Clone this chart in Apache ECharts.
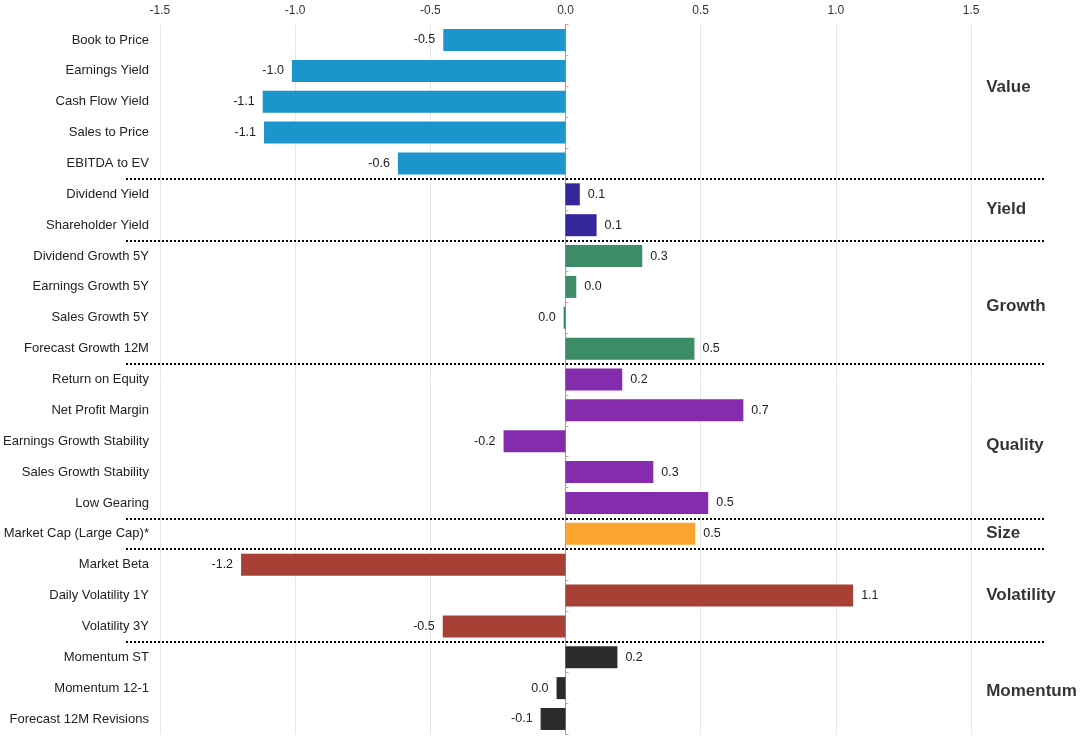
<!DOCTYPE html>
<html>
<head>
<meta charset="utf-8">
<script src="https://cdn.jsdelivr.net/npm/echarts@6/dist/echarts.min.js"></script>
<style>
  html, body { margin: 0; padding: 0; background: #fff; }
  #chart { width: 1080px; height: 737px; }
</style>
</head>
<body>
<div id="chart"></div>
<script>
// factor names, top to bottom
var categories = [
  'Book to Price', 'Earnings Yield', 'Cash Flow Yield', 'Sales to Price', 'EBITDA to EV',
  'Dividend Yield', 'Shareholder Yield',
  'Dividend Growth 5Y', 'Earnings Growth 5Y', 'Sales Growth 5Y', 'Forecast Growth 12M',
  'Return on Equity', 'Net Profit Margin', 'Earnings Growth Stability', 'Sales Growth Stability', 'Low Gearing',
  'Market Cap (Large Cap)*',
  'Market Beta', 'Daily Volatility 1Y', 'Volatility 3Y',
  'Momentum ST', 'Momentum 12-1', 'Forecast 12M Revisions'
];
var values = [
  -0.452, -1.012, -1.12, -1.115, -0.62,
  0.053, 0.115,
  0.284, 0.04, -0.007, 0.477,
  0.21, 0.658, -0.229, 0.325, 0.528,
  0.48,
  -1.2, 1.064, -0.454,
  0.192, -0.033, -0.092
];
var groupNames = ['Value', 'Yield', 'Growth', 'Quality', 'Size', 'Volatility', 'Momentum'];
var groupSizes = [5, 2, 4, 5, 1, 3, 3];
var groupColors = ['#1b95cc', '#33259a', '#3d8c68', '#852bae', '#fba52e', '#a84135', '#2b2b2b'];
var xTicks = [-1.5, -1.0, -0.5, 0.0, 0.5, 1.0, 1.5];

// small tweaks for where the group titles sit (px)
var groupLabelNudge = { Value: -14, Growth: 4, Quality: 4, Momentum: 3 };

var font = 'Liberation Sans, Arial, sans-serif';

// work out each bar's colour, group centres and separator rows
var barColors = [];
var groupCenters = [];
var separators = [];
var start = 0;
groupSizes.forEach(function (n, gi) {
  for (var i = 0; i < n; i++) barColors.push(groupColors[gi]);
  groupCenters.push(start + (n - 1) / 2);
  start += n;
  if (gi < groupSizes.length - 1) separators.push(start - 0.5);
});

function fmt(v) {
  return Math.abs(v) < 0.05 ? '0.0' : v.toFixed(1);
}

var chart = echarts.init(document.getElementById('chart'));

var option = {
  animation: false,
  grid: [
    { left: 159, right: 109, top: 24.6, bottom: 2.6 },
    { left: 126, right: 35, top: 24.6, bottom: 2.6 }
  ],
  xAxis: [
    {
      type: 'value',
      gridIndex: 0,
      position: 'top',
      min: xTicks[0],
      max: xTicks[xTicks.length - 1],
      interval: 0.5,
      axisLine: { show: false },
      axisTick: { show: false },
      axisLabel: {
        margin: 8,
        fontSize: 12,
        color: '#333',
        fontFamily: font,
        formatter: function (v) { return v.toFixed(1); }
      },
      splitLine: { show: true, lineStyle: { color: '#e6e6e6', width: 1 } }
    },
    { type: 'value', gridIndex: 1, min: 0, max: 1, show: false }
  ],
  yAxis: [
    {
      type: 'category',
      gridIndex: 0,
      inverse: true,
      data: categories,
      axisLine: { show: false, onZero: false },
      axisTick: { show: false },
      axisLabel: { margin: 11, fontSize: 13, color: '#222', fontFamily: font }
    },
    {
      type: 'category',
      gridIndex: 0,
      inverse: true,
      data: categories,
      axisLine: { show: true, onZero: true, lineStyle: { color: '#9a9a9a', width: 1 } },
      axisTick: { show: true, length: 3, lineStyle: { color: '#c9a4a0' } },
      axisLabel: { show: false },
      splitLine: { show: false }
    },
    { type: 'value', gridIndex: 1, min: -0.5, max: categories.length - 0.5, inverse: true, show: false }
  ],
  series: [
    {
      type: 'bar',
      xAxisIndex: 0,
      yAxisIndex: 0,
      barWidth: 22,
      data: values.map(function (v, i) {
        return {
          value: v,
          itemStyle: { color: barColors[i] },
          label: { position: v < 0 ? 'left' : 'right' }
        };
      }),
      label: {
        show: true,
        distance: 8,
        fontSize: 12.5,
        color: '#222',
        fontFamily: font,
        formatter: function (p) { return fmt(p.value); }
      },
      z: 3
    },
    {
      type: 'scatter',
      xAxisIndex: 1,
      yAxisIndex: 2,
      symbolSize: 0,
      silent: true,
      data: groupNames.map(function (g, i) {
        return {
          name: g,
          value: [0.936, groupCenters[i]],
          label: { offset: [0, groupLabelNudge[g] || 0] }
        };
      }),
      label: {
        show: true,
        position: 'inside',
        align: 'left',
        fontSize: 17,
        fontWeight: 'bold',
        color: '#000',
        fontFamily: font,
        formatter: function (p) { return p.name; }
      },
      markLine: {
        silent: true,
        symbol: 'none',
        label: { show: false },
        lineStyle: { type: 'dotted', color: '#000', width: 2 },
        data: separators.map(function (s) { return { yAxis: s }; })
      },
      z: 5
    }
  ]
};

chart.setOption(option);
</script>
</body>
</html>
